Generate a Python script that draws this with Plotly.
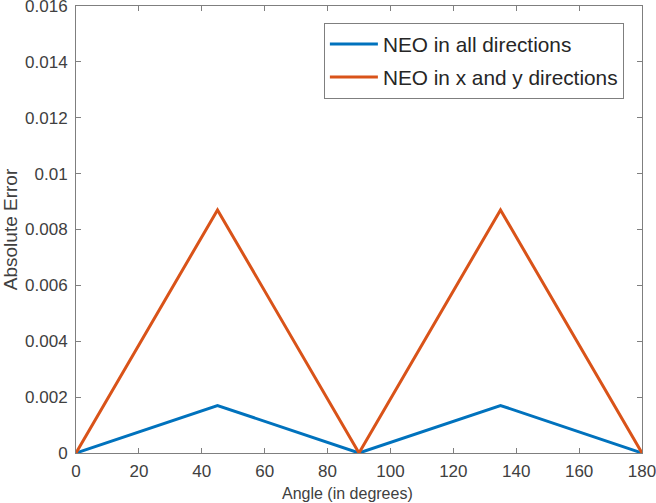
import plotly.graph_objects as go

angles = [0, 45, 90, 135, 180]
err_all = [0.0, 0.0017, 0.0, 0.0017, 0.0]
err_xy = [0.0, 0.0087, 0.0, 0.0087, 0.0]
x_ticks = [0, 20, 40, 60, 80, 100, 120, 140, 160, 180]
y_ticks = [0, 0.002, 0.004, 0.006, 0.008, 0.01, 0.012, 0.014, 0.016]
y_labels = ["0", "0.002", "0.004", "0.006", "0.008", "0.01", "0.012", "0.014", "0.016"]

fig = go.Figure()
fig.add_trace(go.Scatter(x=angles, y=err_all, mode="lines", name="NEO in all directions",
                         legendgroup="a", line=dict(color="#0072BD", width=3)))
fig.add_trace(go.Scatter(x=angles, y=err_xy, mode="lines", name="NEO in x and y directions",
                         legendgroup="b", line=dict(color="#D95319", width=3)))

axis_common = dict(showgrid=False, zeroline=False, showline=True, linecolor="#7f7f7f",
                   linewidth=1, mirror="allticks", ticks="inside", ticklen=5,
                   tickcolor="#7f7f7f", tickfont=dict(size=17, color="#404040"),
                   automargin=False, ticklabeloverflow="allow")

fig.update_layout(
    width=656, height=503,
    margin=dict(l=76, r=14, t=6, b=50),
    paper_bgcolor="white", plot_bgcolor="white",
    font=dict(family="Liberation Sans, Arial, sans-serif", color="#404040"),
    xaxis=dict(range=[0, 180], tickvals=x_ticks, ticklabelstandoff=3, **axis_common),
    yaxis=dict(range=[0, 0.016], tickvals=y_ticks, ticktext=y_labels, ticklabelstandoff=4,
               title=dict(text="Absolute Error", font=dict(size=19), standoff=8), **axis_common),
    legend=dict(x=0.968, y=0.962, xanchor="right", yanchor="top", bordercolor="#7f7f7f",
                borderwidth=1, bgcolor="white", font=dict(size=20.8, color="#262626"),
                itemwidth=48, tracegroupgap=3),
    showlegend=True,
    annotations=[dict(text="Angle (in degrees)", xref="paper", yref="paper",
                      x=0.479, y=-0.0917, xanchor="center", yanchor="middle",
                      showarrow=False, font=dict(size=16, color="#404040"))],
)

fig.write_html("out.html", config={"displayModeBar": False},
               post_script="document.body.style.margin='0';document.body.style.overflow='hidden';")
